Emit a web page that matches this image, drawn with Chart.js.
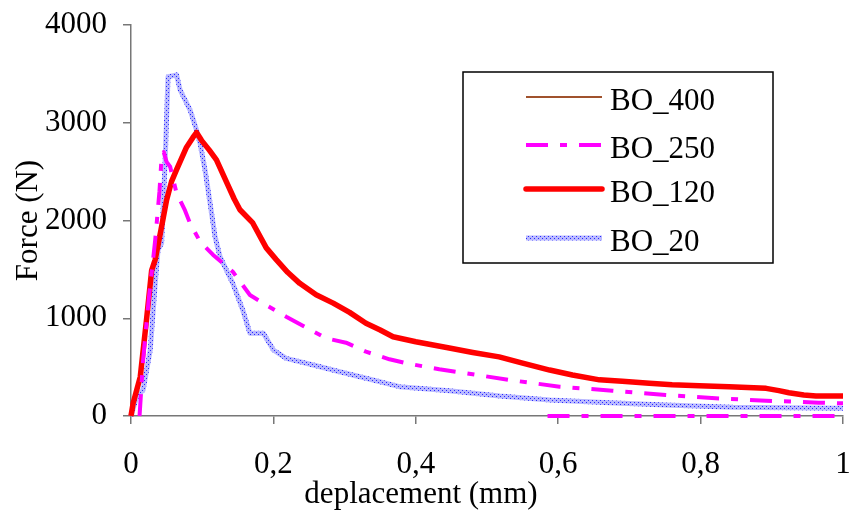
<!DOCTYPE html>
<html>
<head>
<meta charset="utf-8">
<script src="https://cdn.jsdelivr.net/npm/chart.js@4.4.1/dist/chart.umd.min.js"></script>
<style>
  body { margin: 0; background: #fff; }
  .wrap { width: 852px; height: 514px; }
</style>
</head>
<body>
<div class="wrap"><canvas class="my-chart"></canvas></div>
<script>
// series (x in mm, y in N)
const seriesNames = ['BO_400', 'BO_250', 'BO_120', 'BO_20']

const bo400X = []
const bo400Y = []

const bo250X = [0.012, 0.017, 0.025, 0.034, 0.04, 0.043, 0.046, 0.05, 0.055, 0.06, 0.064, 0.076, 0.083, 0.097, 0.115, 0.143, 0.167, 0.19, 0.218, 0.242, 0.274, 0.302, 0.33, 0.363, 0.387, 0.433, 0.471, 0.532, 0.602, 0.676, 0.751, 0.821, 0.892, 0.966, 1.0, 1.0, 0.585, 1.0]
const bo250Y = [0, 570, 1200, 1800, 2300, 2650, 2700, 2600, 2550, 2400, 2280, 2100, 1970, 1785, 1650, 1476, 1238, 1135, 1016, 920, 795, 750, 658, 580, 539, 478, 437, 368, 300, 259, 215, 181, 157, 136, 130, null, 0, 0]

const bo120X = [0, 0.003, 0.013, 0.022, 0.029, 0.034, 0.042, 0.05, 0.057, 0.064, 0.078, 0.087, 0.092, 0.099, 0.11, 0.12, 0.135, 0.145, 0.153, 0.171, 0.19, 0.204, 0.22, 0.237, 0.26, 0.284, 0.307, 0.33, 0.35, 0.368, 0.4, 0.447, 0.48, 0.517, 0.55, 0.588, 0.62, 0.658, 0.69, 0.728, 0.76, 0.798, 0.84, 0.892, 0.91, 0.924, 0.945, 0.962, 1.0]
const bo120Y = [0, 130, 400, 1000, 1490, 1600, 1900, 2210, 2400, 2520, 2750, 2850, 2900, 2820, 2720, 2620, 2380, 2220, 2110, 1975, 1720, 1600, 1470, 1357, 1240, 1155, 1060, 948, 880, 811, 760, 695, 650, 605, 540, 470, 420, 370, 355, 335, 320, 310, 300, 283, 260, 238, 215, 205, 205]

const bo20X = [0, 0.008, 0.017, 0.027, 0.034, 0.038, 0.043, 0.048, 0.052, 0.058, 0.064, 0.069, 0.083, 0.092, 0.097, 0.104, 0.111, 0.118, 0.125, 0.143, 0.157, 0.167, 0.186, 0.2, 0.218, 0.256, 0.293, 0.33, 0.377, 0.447, 0.518, 0.588, 0.672, 0.751, 0.845, 1.0]
const bo20Y = [0, 197, 266, 675, 1357, 1700, 1767, 2620, 3470, 3480, 3490, 3335, 3130, 2925, 2790, 2515, 2180, 1835, 1630, 1357, 1084, 846, 846, 675, 590, 522, 453, 386, 300, 259, 205, 164, 136, 113, 89, 79]

const xTicks = [0, 0.2, 0.4, 0.6, 0.8, 1]
const yTicks = [0, 1000, 2000, 3000, 4000]

function pts(xs, ys) {
    return xs.map((x, i) => ({x: x, y: ys[i]}))
}

// dotted blue texture for BO_20
const pc = document.createElement('canvas')
pc.width = 4; pc.height = 4
const pctx = pc.getContext('2d')
pctx.fillStyle = 'rgb(185,185,255)'
pctx.fillRect(0, 0, 4, 4)
pctx.fillStyle = 'rgb(40,40,255)'
pctx.fillRect(0, 0, 1, 1)
pctx.fillRect(2, 2, 1, 1)
const bluePattern = pctx.createPattern(pc, 'repeat')

Chart.defaults.font.family = "'Liberation Serif', 'Times New Roman', serif"
Chart.defaults.color = '#000'

const boxLegend = {
    id: 'boxLegend',
    afterDraw(chart) {
        const ctx = chart.ctx
        ctx.save()
        ctx.strokeStyle = '#000'
        ctx.lineWidth = 1.5
        ctx.fillStyle = '#fff'
        ctx.fillRect(463, 72, 310, 191)
        ctx.strokeRect(463, 72, 310, 191)
        const rows = [97, 145, 189, 238]
        chart.data.datasets.forEach((ds, i) => {
            const y = rows[i]
            ctx.beginPath()
            ctx.strokeStyle = ds.borderColor
            ctx.lineWidth = ds.borderWidth
            ctx.setLineDash(ds.borderDash || [])
            ctx.lineCap = ds.legendCap || 'butt'
            ctx.moveTo(526, y)
            ctx.lineTo(602, y)
            ctx.stroke()
            ctx.setLineDash([])
            ctx.fillStyle = '#000'
            ctx.font = "31px 'Liberation Serif'"
            ctx.textBaseline = 'alphabetic'
            ctx.textAlign = 'left'
            ctx.fillText(ds.label, 610, y + 13)
        })
        // x axis title
        ctx.textAlign = 'center'
        ctx.textBaseline = 'middle'
        ctx.fillText('deplacement (mm)', 421, 495)
        ctx.restore()
    }
}

const myChart = document.querySelector('.my-chart')
new Chart(myChart, {
    type: 'line',
    data: {
        datasets: [
            {
                label: seriesNames[0],
                data: pts(bo400X, bo400Y),
                borderColor: 'rgb(160,82,45)',
                borderWidth: 2,
            },
            {
                label: seriesNames[1],
                data: pts(bo250X, bo250Y),
                borderColor: 'rgb(255,0,255)',
                borderWidth: 4,
                borderDash: [22, 12, 7, 12],
            },
            {
                label: seriesNames[2],
                data: pts(bo120X, bo120Y),
                borderColor: 'rgb(255,0,0)',
                borderWidth: 5.5,
                legendCap: 'round',
            },
            {
                label: seriesNames[3],
                data: pts(bo20X, bo20Y),
                borderColor: bluePattern,
                borderWidth: 5,
            }
        ]
    },
    options: {
        responsive: true,
        maintainAspectRatio: false,
        animation: false,
        clip: 6,
        elements: {
            point: { radius: 0 },
            line: { tension: 0, borderJoinStyle: 'round' }
        },
        layout: { padding: { left: 0, top: 25, right: 9, bottom: 0 } },
        plugins: {
            legend: { display: false },
            tooltip: { enabled: false }
        },
        scales: {
            x: {
                type: 'linear',
                min: 0,
                max: 1,
                afterFit(scale) {
                    scale.height = 98
                    scale.paddingLeft = 0
                    scale.paddingRight = 0
                },
                afterBuildTicks(scale) { scale.ticks = xTicks.map(v => ({value: v})) },
                border: { color: '#777', width: 1.5 },
                grid: { drawOnChartArea: false, color: '#777', tickLength: 8, lineWidth: 1.5 },
                ticks: {
                    padding: 22,
                    font: { size: 31 },
                    maxRotation: 0,
                    callback: v => String(Math.round(v * 10) / 10).replace('.', ',')
                }
            },
            y: {
                min: 0,
                max: 4000,
                afterFit(scale) {
                    scale.width = 131
                    scale.paddingTop = 0
                    scale.paddingBottom = 0
                },
                afterBuildTicks(scale) { scale.ticks = yTicks.map(v => ({value: v})) },
                border: { color: '#777', width: 1.5 },
                grid: { drawOnChartArea: false, color: '#777', tickLength: 8, lineWidth: 1.5 },
                ticks: {
                    padding: 16,
                    font: { size: 31 },
                    callback: v => String(v)
                },
                title: {
                    display: true,
                    text: 'Force (N)',
                    font: { size: 31 },
                    padding: { top: 10, bottom: 0 }
                }
            }
        }
    },
    plugins: [boxLegend]
})
</script>
</body>
</html>
